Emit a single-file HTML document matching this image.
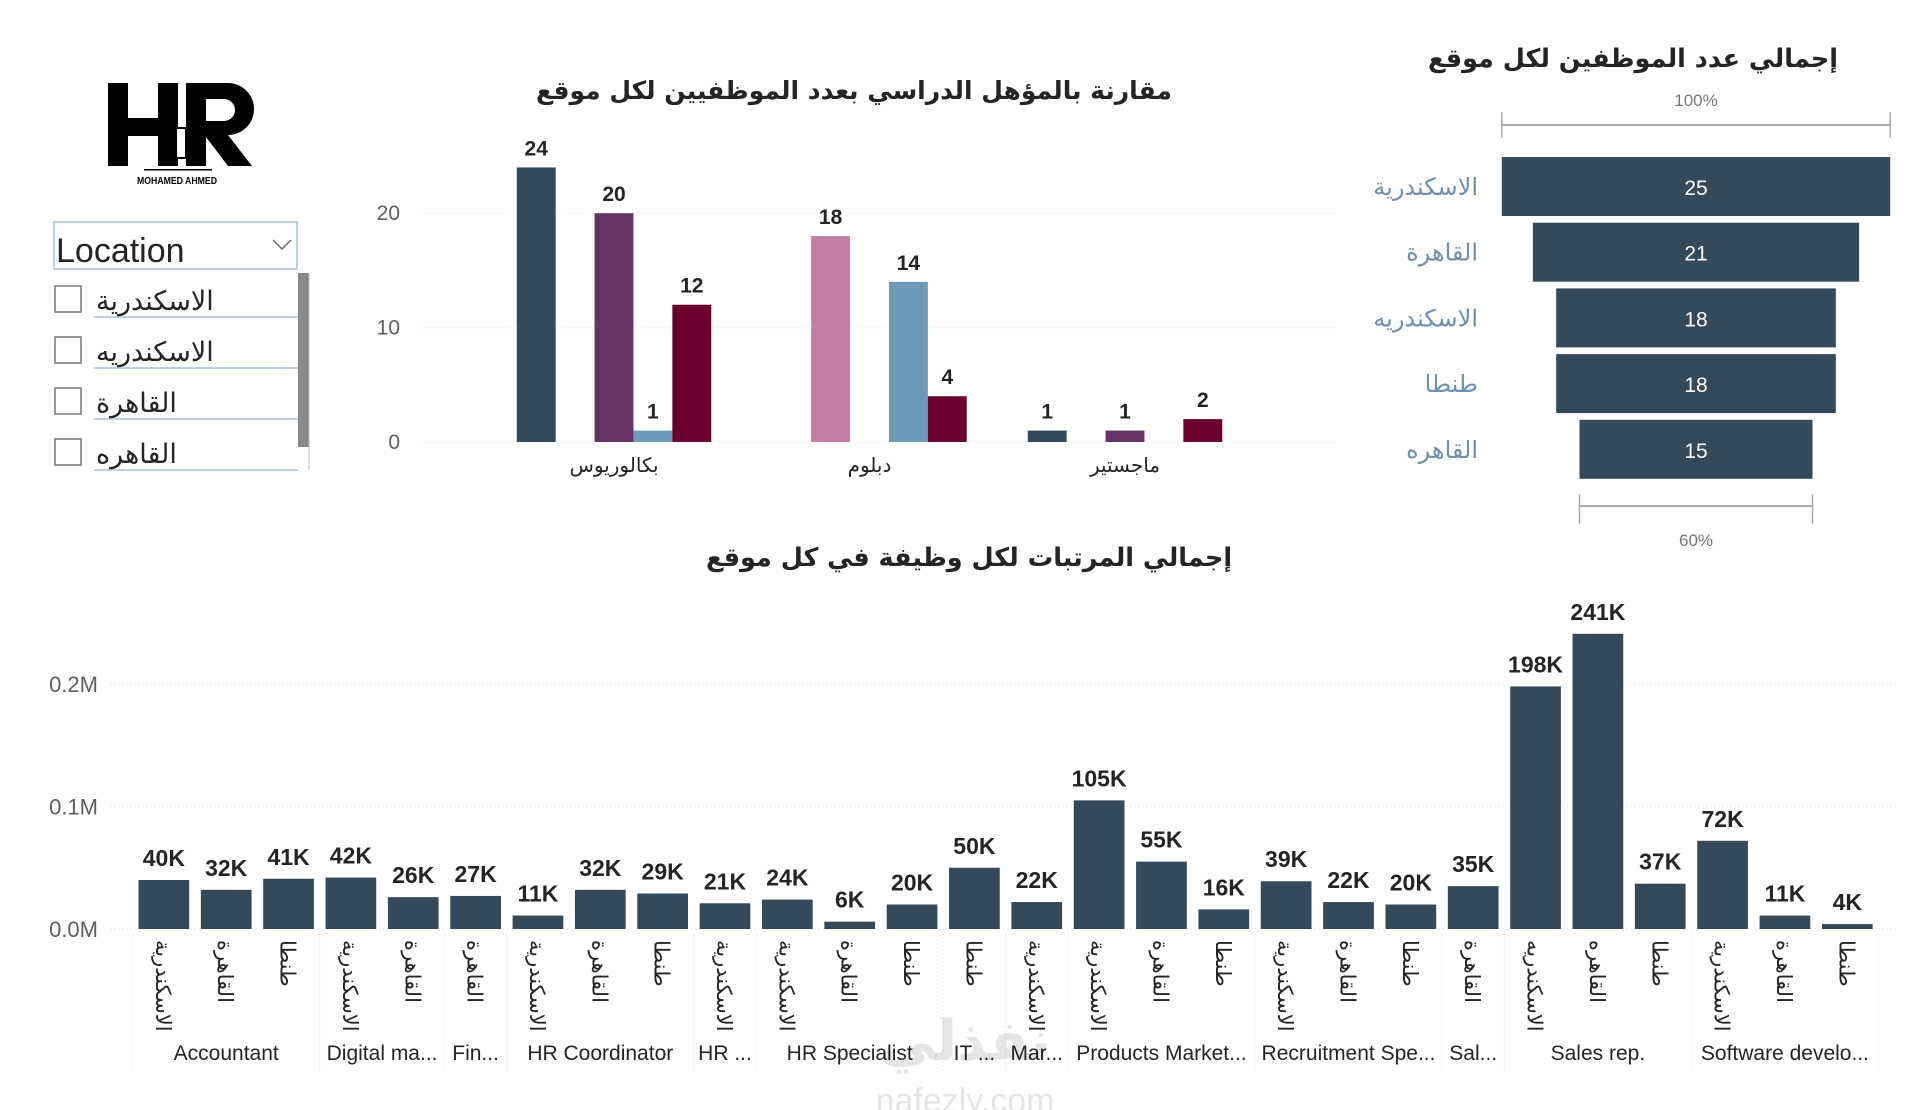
<!DOCTYPE html>
<html><head><meta charset="utf-8">
<style>
html,body{margin:0;padding:0;background:#fff;}
svg{display:block;}
text{font-family:"Liberation Sans","Noto Sans CJK SC",sans-serif;}
.ar{font-family:"DejaVu Sans","Liberation Sans",sans-serif;}
</style></head>
<body>
<svg id="page" width="1920" height="1110" viewBox="0 0 1920 1110" xmlns="http://www.w3.org/2000/svg">
  <g>
    <rect x="108" y="83" width="20" height="83" fill="#000"/>
    <rect x="128" y="118" width="30" height="18" fill="#000"/>
    <rect x="158" y="83" width="20" height="83" fill="#000"/>
    <rect x="186" y="83" width="20" height="83" fill="#000"/>
    <path d="M206 83 h22 a26 26 0 0 1 0 52 l24 31 h-24 l-22 -29 z M206 99 v22 h18 a11 11 0 0 0 0 -22 z" fill="#000" fill-rule="evenodd"/>
    <rect x="176" y="128" width="10" height="30" fill="#fff" stroke="#000" stroke-width="2"/>
    <rect x="144" y="169" width="68" height="1.5" fill="#000"/>
    <text x="177" y="184" font-size="10" font-weight="bold" text-anchor="middle" textLength="80" lengthAdjust="spacingAndGlyphs">MOHAMED AHMED</text>
  </g>

  <g>
    <rect x="54" y="222" width="243" height="47" fill="#fff" stroke="#a9c0d3" stroke-width="1.5"/>
    <text x="56" y="262" font-size="34" fill="#252423">Location</text>
    <path d="M273 240 l9 9 l9 -9" fill="none" stroke="#666" stroke-width="1.5"/>
    <rect x="298" y="273" width="11" height="174" fill="#8a8a8a"/>
    <line x1="309" y1="273" x2="309" y2="470" stroke="#a9c0d3" stroke-width="1"/>
  </g>
  <g id="slicer-items"></g>

  <text x="854" y="99" font-size="25" font-weight="bold" text-anchor="middle" class="ar" fill="#252423">مقارنة بالمؤهل الدراسي بعدد الموظفيين لكل موقع</text>
  <g id="chart1"></g>

  <text x="1633" y="67" font-size="25.5" font-weight="bold" text-anchor="middle" class="ar" fill="#252423">إجمالي عدد الموظفين لكل موقع</text>
  <g id="funnel"></g>

  <text x="969" y="566" font-size="25.5" font-weight="bold" text-anchor="middle" class="ar" fill="#252423">إجمالي المرتبات لكل وظيفة في كل موقع</text>
  <g id="chart3"></g>

  <text x="965" y="1060" font-size="56" font-weight="bold" text-anchor="middle" class="ar" fill="#000" fill-opacity="0.1">نفذلي</text>
  <text x="965" y="1112" font-size="34" text-anchor="middle" fill="#000" fill-opacity="0.1">nafezly.com</text>
</svg>
<script>
const NS="http://www.w3.org/2000/svg";
function mk(parent,tag,attrs,txt){const e=document.createElementNS(NS,tag);for(const k in attrs)e.setAttribute(k,attrs[k]);if(txt!==undefined)e.textContent=txt;parent.appendChild(e);return e;}

const slicerItems=["الاسكندرية","الاسكندريه","القاهرة","القاهره"];
const sg=document.getElementById('slicer-items');
slicerItems.forEach((s,i)=>{
  const y=310+i*51;
  const g=mk(sg,'g',{});
  
  
  const cb=mk(g,'rect',{x:55,y:y-24,width:26,height:26,fill:'#fff',stroke:'#777','stroke-width':1.5});
  
  
  mk(g,'text',{x:96,y:y,'font-size':27,fill:'#252423','class':'ar'},s);
  mk(g,'line',{x1:94,y1:y+7,x2:298,y2:y+7,stroke:'#a9c0d3','stroke-width':1.5});
});

const c1Categories=["بكالوريوس","دبلوم","ماجستير"];
const c1Series=["s1","s2","s3","s4","s5"];
const c1Dark=[24,0,1];
const c1Pink=[0,18,0];
const c1Purple=[20,0,1];
const c1Blue=[1,14,0];
const c1Maroon=[12,4,2];
const c1Ticks=[0,10,20];
(function(){
  const g=document.getElementById('chart1');
  const vals=[c1Dark,c1Pink,c1Purple,c1Blue,c1Maroon];
  const cols=['#34495a','#c57fa7','#663366','#6d9ab8','#6b0030'];
  const y0=442, perUnit=11.44;
  const y=v=>y0-v*perUnit;
  const cx=i=>614+255.5*i;
  const slot=38.9;
  c1Ticks.forEach(t=>{
    const l=mk(g,'line',{x1:421,x2:1336,y1:y(t),y2:y(t),stroke:'#ddd','stroke-dasharray':'1 3'});
    
    const tx=mk(g,'text',{x:400,y:y(t)+7,'font-size':21,fill:'#605e5c','text-anchor':'end'},t);
    
  });
  c1Categories.forEach((c,i)=>{
    const t=mk(g,'text',{x:cx(i),y:472,'font-size':20,fill:'#252423','text-anchor':'middle','class':'ar'},c);
    
    vals.forEach((arr,j)=>{
      const v=arr[i]; if(!v) return;
      const x=cx(i)+(j-2.5)*slot;
      const r=mk(g,'rect',{x:x,y:y(v),width:slot,height:v*perUnit,fill:cols[j]});
      
      const lb=mk(g,'text',{x:x+slot/2,y:y(v)-12,'font-size':21,'font-weight':'bold',fill:'#252423','text-anchor':'middle'},v);
      
    });
  });
})();

const funnelLabels=["الاسكندرية","القاهرة","الاسكندريه","طنطا","القاهره"];
const funnelValues=[25,21,18,18,15];
(function(){
  const g=document.getElementById('funnel');
  const cx=1696, full=388.4, max=Math.max(...funnelValues);
  const w=v=>full*v/max;
  const tt=mk(g,'text',{x:cx,y:106,'font-size':17,fill:'#777','text-anchor':'middle'},'100%');
  
  mk(g,'line',{x1:cx-w(max)/2,x2:cx+w(max)/2,y1:125,y2:125,stroke:'#aaa','stroke-width':2});
  mk(g,'line',{x1:cx-w(max)/2,x2:cx-w(max)/2,y1:112,y2:138,stroke:'#aaa','stroke-width':1.5});
  mk(g,'line',{x1:cx+w(max)/2,x2:cx+w(max)/2,y1:112,y2:138,stroke:'#aaa','stroke-width':1.5});
  funnelValues.forEach((v,i)=>{
    const top=157+i*65.7;
    const r=mk(g,'rect',{x:cx-w(v)/2,y:top,width:w(v),height:59,fill:'#34495a'});
    
    const t=mk(g,'text',{x:cx,y:top+38,'font-size':21,fill:'#fff','text-anchor':'middle'},v);
    
    const l=mk(g,'text',{x:1478,y:top+38,'font-size':24,fill:'#6d8fb0','text-anchor':'end','class':'ar'},funnelLabels[i]);
    
  });
  const last=funnelValues[funnelValues.length-1], pct=Math.round(last/max*100)+'%';
  mk(g,'line',{x1:cx-w(last)/2,x2:cx+w(last)/2,y1:506,y2:506,stroke:'#aaa','stroke-width':2});
  mk(g,'line',{x1:cx-w(last)/2,x2:cx-w(last)/2,y1:494,y2:524,stroke:'#aaa','stroke-width':1.5});
  mk(g,'line',{x1:cx+w(last)/2,x2:cx+w(last)/2,y1:494,y2:524,stroke:'#aaa','stroke-width':1.5});
  const bt=mk(g,'text',{x:cx,y:546,'font-size':17,fill:'#777','text-anchor':'middle'},pct);
  
})();

const c3Values=[40,32,41,42,26,27,11,32,29,21,24,6,20,50,22,105,55,16,39,22,20,35,198,241,37,72,11,4];
const c3Locations=["الاسكندرية","القاهرة","طنطا","الاسكندرية","القاهرة","القاهرة","الاسكندرية","القاهرة","طنطا","الاسكندرية","الاسكندرية","القاهرة","طنطا","طنطا","الاسكندرية","الاسكندرية","القاهرة","طنطا","الاسكندرية","القاهرة","طنطا","القاهرة","الاسكندريه","القاهره","طنطا","الاسكندرية","القاهرة","طنطا"];
const c3Jobs=["Accountant","Digital ma...","Fin...","HR Coordinator","HR ...","HR Specialist","IT ...","Mar...","Products Market...","Recruitment Spe...","Sal...","Sales rep.","Software develo..."];
const c3JobCounts=[3,2,1,3,1,3,1,1,3,3,1,3,3];
const c3Ticks=[0,100,200];
const c3TickLabels=["0.0M","0.1M","0.2M"];
(function(){
  const g=document.getElementById('chart3');
  const y0=929, perK=1.225;
  const y=v=>y0-v*perK;
  const step=62.35, bw=50.7, left=138.5;
  const bx=i=>left+i*step;
  c3Ticks.forEach((t,k)=>{
    const l=mk(g,'line',{x1:111,x2:1899,y1:y(t),y2:y(t),stroke:'#ddd','stroke-dasharray':'1 3'});
    
    const tx=mk(g,'text',{x:98,y:y(t)+8,'font-size':22,fill:'#605e5c','text-anchor':'end'},c3TickLabels[k]);
    
  });
  c3Values.forEach((v,i)=>{
    const r=mk(g,'rect',{x:bx(i),y:y(v),width:bw,height:v*perK,fill:'#34495a'});
    
    const lb=mk(g,'text',{x:bx(i)+bw/2,y:y(v)-14,'font-size':23,'font-weight':'bold',fill:'#252423','text-anchor':'middle'},v+'K');
    
    const cx=bx(i)+bw/2;
    const lt=mk(g,'text',{x:0,y:0,'font-size':21,fill:'#252423','class':'ar',transform:`translate(${cx-8},940) rotate(90)`},c3Locations[i]);
    
  });
  let start=0;
  c3Jobs.forEach((j,k)=>{
    const n=c3JobCounts[k];
    const x1=bx(start)-(step-bw)/2, x2=bx(start+n-1)+bw+(step-bw)/2;
    const sep=mk(g,'line',{x1:x1,x2:x1,y1:934,y2:1072,stroke:'#ddd','stroke-dasharray':'1 3'});
    
    const t=mk(g,'text',{x:(x1+x2)/2,y:1060,'font-size':21,fill:'#252423','text-anchor':'middle'},j);
    
    start+=n;
    if(k===c3Jobs.length-1){
      const s2=mk(g,'line',{x1:x2,x2:x2,y1:934,y2:1072,stroke:'#ddd','stroke-dasharray':'1 3'});
      
    }
  });
})();
</script>
</body></html>
